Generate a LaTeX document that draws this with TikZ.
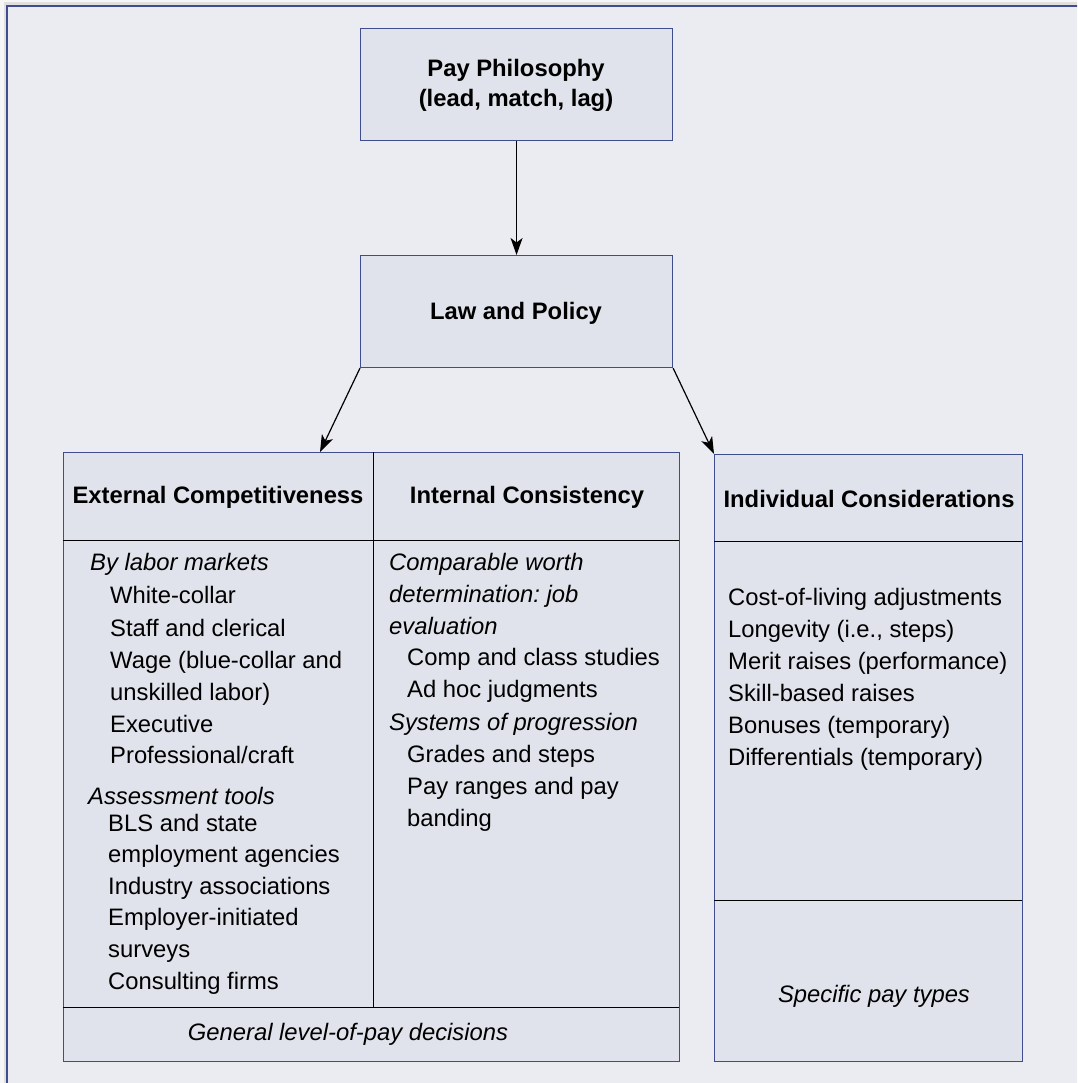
\documentclass[tikz,border=0pt]{standalone}
\usepackage{fontspec}
\setmainfont{Liberation Sans}
\usetikzlibrary{arrows.meta}
\definecolor{pagebg}{HTML}{F6F6F7}
\definecolor{panelbg}{HTML}{EBECF1}
\definecolor{boxbg}{HTML}{E0E3EB}
\definecolor{edge}{HTML}{3F4C8E}
\newcommand\bodysize{\fontsize{23.8pt}{31.7pt}\selectfont\frenchspacing}
\begin{document}
\begin{tikzpicture}[x=1pt,y=-1pt,
  box/.style={draw=edge,fill=boxbg,line width=1.1pt,rectangle,inner sep=0pt,anchor=north west},
  divider/.style={draw=black,line width=1pt},
  txt/.style={inner sep=0pt,font=\bodysize,anchor=base west},
  head/.style={inner sep=0pt,font=\bodysize\bfseries,anchor=base},
  note/.style={inner sep=0pt,font=\bodysize\itshape,anchor=base west},
  flow/.style={draw=black,line width=1.2pt,-{Stealth[length=17pt,width=12pt,inset=4.5pt]}}
]
\useasboundingbox (0,0) rectangle (1077,1083);
\clip (0,0) rectangle (1077,1083);
% page and outer panel
\fill[pagebg] (0,0) rectangle (1077,1083);
\draw[black!12,line width=3pt] (5,1100) -- (5,4) -- (1100,4);
\draw[edge,fill=panelbg,line width=1.3pt] (7,6) rectangle (1100,1100);

% top boxes
\node[box,minimum width=312pt,minimum height=112pt] (pay) at (360,28) {};
\node[head] (payA) at (516,77) {Pay Philosophy};
\node[head] (payB) at (516,107) {(lead, match, lag)};

\node[box,minimum width=312pt,minimum height=112pt] (law) at (360,255) {};
\node[head] (lawT) at (516,319) {Law and Policy};

% left panel: external competitiveness / internal consistency
\node[box,minimum width=616pt,minimum height=609pt] (gen) at (63,452) {};
\draw[divider] (63,540) -- (679,540);
\draw[divider] (373,452) -- (373,1007);
\draw[divider] (63,1007) -- (679,1007);
\coordinate (genIn) at (320,452);

% right panel: individual considerations
\node[box,minimum width=308pt,minimum height=607pt] (ind) at (714,454) {};
\draw[divider] (714,541) -- (1022,541);
\draw[divider] (714,900) -- (1022,900);

% connectors
\draw[flow] (pay.south) -- (law.north);
\draw[flow] (law.south west) -- (genIn);
\draw[flow] (law.south east) -- (ind.north west);

% headings
\node[head] (extH) at (218,503) {External Competitiveness};
\node[head] (intH) at (527,503) {Internal Consistency};
\node[head] (indH) at (869,507) {Individual Considerations};

% external competitiveness list
\node[note] (e1) at (90,570) {By labor markets};
\node[txt] (e2) at (110,603) {White-collar};
\node[txt] (e3) at (110,636) {Staff and clerical};
\node[txt] (e4) at (110,668) {Wage (blue-collar and};
\node[txt] (e5) at (110,700) {unskilled labor)};
\node[txt] (e6) at (110,732) {Executive};
\node[txt] (e7) at (110,763) {Professional/craft};
\node[note] (e8) at (88,804) {Assessment tools};
\node[txt] (e9) at (108,831) {BLS and state};
\node[txt] (e10) at (108,862) {employment agencies};
\node[txt] (e11) at (108,894) {Industry associations};
\node[txt] (e12) at (108,925) {Employer-initiated};
\node[txt] (e13) at (108,957) {surveys};
\node[txt] (e14) at (108,989) {Consulting firms};

% internal consistency list
\node[note] (i1) at (389,570) {Comparable worth};
\node[note] (i2) at (389,602) {determination: job};
\node[note] (i3) at (389,634) {evaluation};
\node[txt] (i4) at (407,665) {Comp and class studies};
\node[txt] (i5) at (407,697) {Ad hoc judgments};
\node[note] (i6) at (389,730) {Systems of progression};
\node[txt] (i7) at (407,762) {Grades and steps};
\node[txt] (i8) at (407,794) {Pay ranges and pay};
\node[txt] (i9) at (407,826) {banding};

% individual considerations list
\node[txt] (r1) at (728,605) {Cost-of-living adjustments};
\node[txt] (r2) at (728,637) {Longevity (i.e., steps)};
\node[txt] (r3) at (728,669) {Merit raises (performance)};
\node[txt] (r4) at (728,701) {Skill-based raises};
\node[txt] (r5) at (728,733) {Bonuses (temporary)};
\node[txt] (r6) at (728,765) {Differentials (temporary)};

% footers
\node[head,font=\bodysize\itshape] (genF) at (348,1040) {General level-of-pay decisions};
\node[head,font=\bodysize\itshape] (indF) at (874,1002) {Specific pay types};
\end{tikzpicture}
\end{document}
